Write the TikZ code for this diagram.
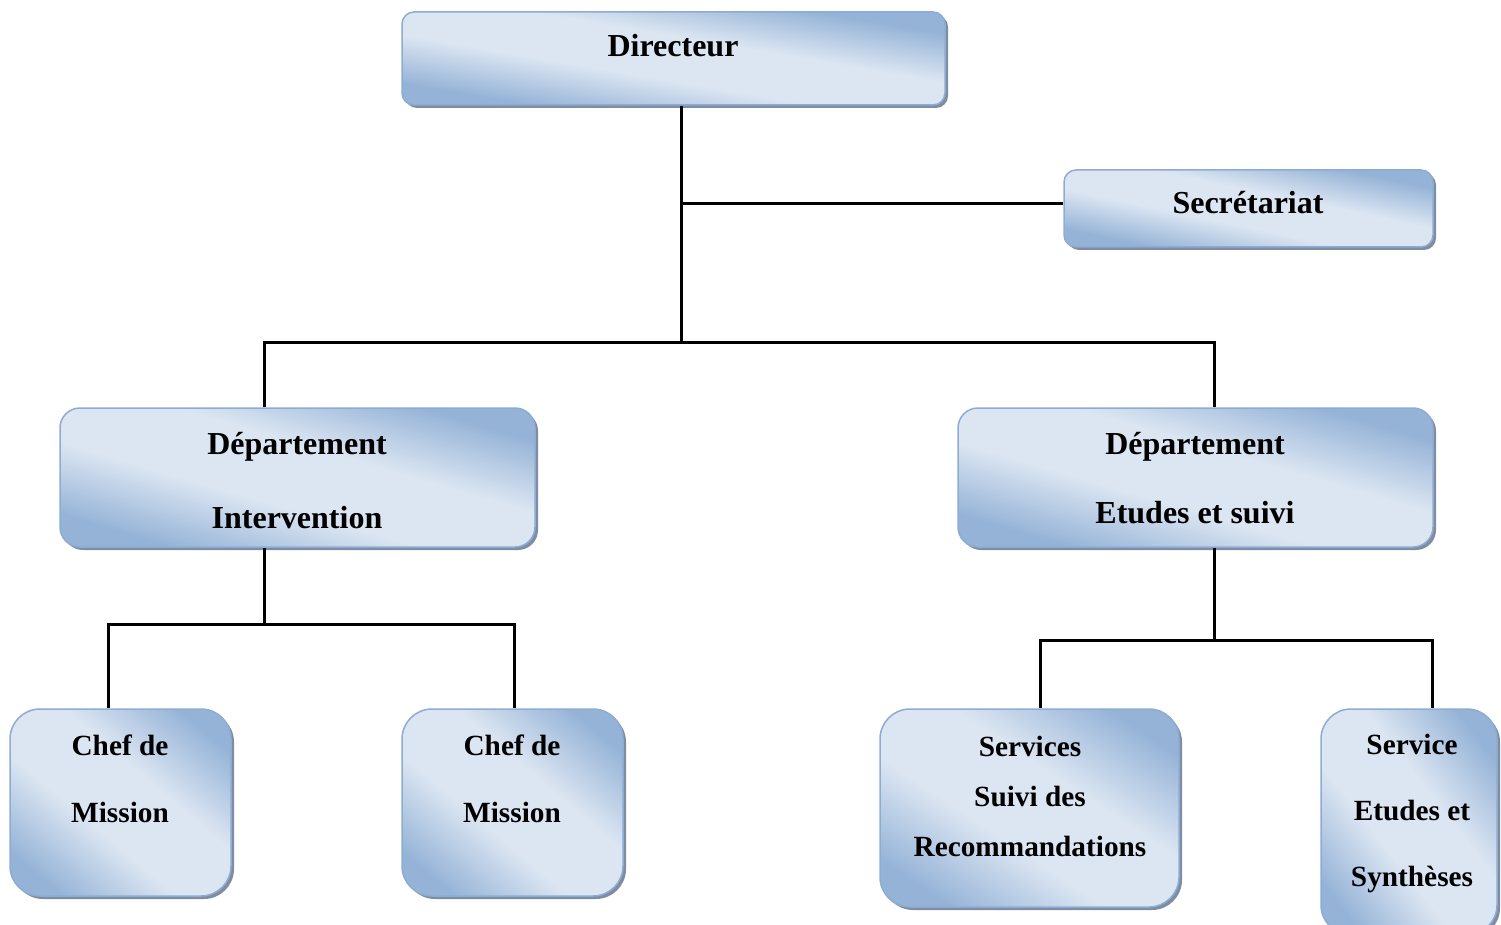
\documentclass[tikz,border=0pt]{standalone}
\usepackage{fontspec}
\setmainfont{Liberation Serif}
\usetikzlibrary{shadows}
\definecolor{dk}{RGB}{149,179,215}
\definecolor{lt}{RGB}{220,230,242}
\definecolor{edge}{RGB}{140,172,212}
\definecolor{shadowc}{RGB}{128,140,160}
\pgfdeclarehorizontalshading{boxshade}{100bp}{color(0bp)=(dk); color(12bp)=(dk); color(38bp)=(lt); color(62bp)=(lt); color(88bp)=(dk); color(100bp)=(dk)}
\tikzset{
  gradfill/.style={path picture={%
    \pgfpointdiff{\pgfpointanchor{path picture bounding box}{south west}}{\pgfpointanchor{path picture bounding box}{north east}}%
    \pgfgetlastxy{\gw}{\gh}%
    \pgfmathsetmacro{\gsx}{\gw/100}%
    \pgfmathsetmacro{\gsy}{\gh/100}%
    \pgftransformshift{\pgfpointanchor{path picture bounding box}{center}}%
    \pgftransformxscale{\gsx}\pgftransformyscale{\gsy}%
    \pgftransformrotate{45}\pgftransformscale{1.42}%
    \pgflowlevelsynccm\pgfuseshading{boxshade}%
  }},
  box/.style={draw=edge, line width=1.5pt, fill=lt, gradfill,
    drop shadow={shadow xshift=3pt, shadow yshift=-3pt, fill=shadowc, opacity=1},
    inner sep=0pt},
  txt/.style={font=\fontsize{32}{38}\selectfont\bfseries, anchor=base, inner sep=0pt},
  stxt/.style={font=\fontsize{29.3}{35}\selectfont\bfseries, anchor=base, inner sep=0pt},
  conn/.style={line width=3pt, black}
}
\begin{document}
\begin{tikzpicture}[x=1pt,y=-1pt]
\clip (0,0) rectangle (1501,925);
% boxes
\node[box, rounded corners=12pt, minimum width=543pt, minimum height=93pt] (dir) at (673.5,58.5) {};
\node[box, rounded corners=12pt, minimum width=369pt, minimum height=77pt] (sec) at (1248.5,208.5) {};
\node[box, rounded corners=20pt, minimum width=475pt, minimum height=139pt] (depI) at (297.5,477.5) {};
\node[box, rounded corners=20pt, minimum width=475pt, minimum height=139pt] (depE) at (1195.5,477.5) {};
\node[box, rounded corners=30pt, minimum width=221pt, minimum height=187pt] (chef1) at (120.5,802.5) {};
\node[box, rounded corners=30pt, minimum width=221pt, minimum height=187pt] (chef2) at (512.5,802.5) {};
\node[box, rounded corners=30pt, minimum width=299pt, minimum height=198pt] (serv) at (1029.5,808) {};
\node[box, rounded corners=30pt, minimum width=176pt, minimum height=226pt] (servE) at (1409,822) {};
% texts
\node[txt] (dirT) at (673,57) {Directeur};
\node[txt] (secT) at (1248,214) {Secrétariat};
\node[txt] (depIT1) at (297,454) {Département};
\node[txt] (depIT2) at (297,528) {Intervention};
\node[txt] (depET1) at (1195,454) {Département};
\node[txt] (depET2) at (1195,523) {Etudes et suivi};
\node[stxt] (chef1T1) at (120,755) {Chef de};
\node[stxt] (chef1T2) at (120,822) {Mission};
\node[stxt] (chef2T1) at (512,755) {Chef de};
\node[stxt] (chef2T2) at (512,822) {Mission};
\node[stxt] (servT1) at (1030,756) {Services};
\node[stxt] (servT2) at (1030,806) {Suivi des};
\node[stxt] (servT3) at (1030,856) {Recommandations};
\node[stxt] (servET1) at (1412,754) {Service};
\node[stxt] (servET2) at (1412,820) {Etudes et};
\node[stxt] (servET3) at (1412,886) {Synthèses};
% junctions
\coordinate (j1) at (681,342);
\coordinate (js) at (681,204);
\coordinate (jL) at (264,342);
\coordinate (jR) at (1214,342);
\coordinate (jL2) at (264,624);
\coordinate (a1) at (108,624);
\coordinate (a2) at (514,624);
\coordinate (jR2) at (1214,640);
\coordinate (b1) at (1040,640);
\coordinate (b2) at (1432,640);
% connectors
\draw[conn] (j1 |- dir.south) -- (j1);
\draw[conn] (js) -- (js -| sec.west);
\draw[conn] (jL |- depI.north) -- (jL) -- (jR) -- (jR |- depE.north);
\draw[conn] (jL2 |- depI.south) -- (jL2);
\draw[conn] (a1 |- chef1.north) -- (a1) -- (a2) -- (a2 |- chef2.north);
\draw[conn] (jR2 |- depE.south) -- (jR2);
\draw[conn] (b1 |- serv.north) -- (b1) -- (b2) -- (b2 |- servE.north);
\end{tikzpicture}
\end{document}
